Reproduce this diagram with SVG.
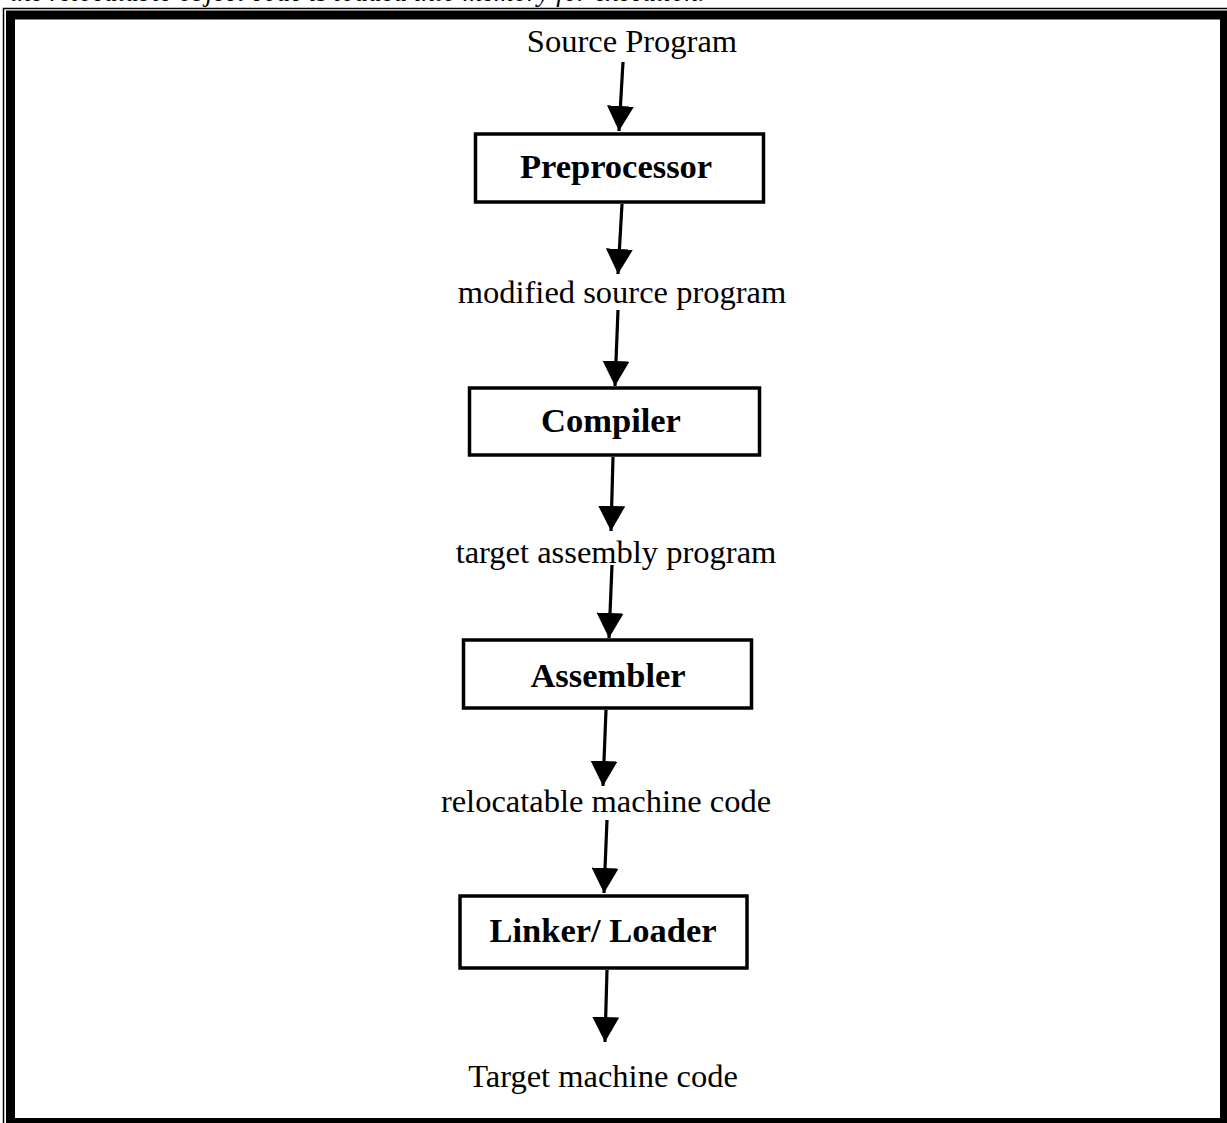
<svg xmlns="http://www.w3.org/2000/svg" width="1227" height="1123" viewBox="0 0 1227 1123">
  <style>
    .lbl { font-family: "Liberation Serif", "Times New Roman", serif; font-size: 32.5px; fill: #000; text-anchor: middle; }
    .ttl { font-family: "Liberation Serif", "Times New Roman", serif; font-size: 34.5px; font-weight: bold; fill: #000; text-anchor: middle; }
    .box { fill: #fff; stroke: #000; stroke-width: 3.5; }
    .conn { fill: none; stroke: #000; stroke-width: 3.2; marker-end: url(#head); }
    .cap { font-family: "Liberation Serif", "Times New Roman", serif; font-style: italic; font-size: 27px; fill: #000; }
  </style>
  <defs>
    <marker id="head" markerUnits="userSpaceOnUse" markerWidth="25" markerHeight="27" viewBox="0 0 25 27" refX="25" refY="13.5" orient="auto">
      <path d="M0,0 L25,13.5 L0,27 Z" fill="#000"/>
    </marker>
  </defs>

  <rect width="1227" height="1123" fill="#fff"/>

  <!-- caption line running off the top of the page -->
  <text class="cap" x="10" y="0.5">the relocatable object code is loaded into memory for execution.</text>

  <!-- page border: thin outer rule plus thick inner rule -->
  <g id="border">
    <path d="M3.5,1123 V8.5 H1227" fill="none" stroke="#000" stroke-width="1.5"/>
    <rect x="10.5" y="15" width="1214" height="1107.5" fill="none" stroke="#000" stroke-width="9"/>
  </g>

  <g id="connectors">
    <path class="conn" d="M623,62 L619,131"/>
    <path class="conn" d="M622,204 L618,274"/>
    <path class="conn" d="M618,310 L615,386"/>
    <path class="conn" d="M613,457 L611,531"/>
    <path class="conn" d="M612,565 L609,638"/>
    <path class="conn" d="M606,710 L603,786"/>
    <path class="conn" d="M607,820 L604,893"/>
    <path class="conn" d="M607,970 L605,1042"/>
  </g>

  <g id="source-program">
    <text class="lbl" x="632" y="52">Source Program</text>
  </g>

  <g id="preprocessor">
    <rect class="box" x="475.5" y="134" width="288" height="68"/>
    <text class="ttl" x="616" y="178">Preprocessor</text>
  </g>

  <g id="modified-source-program">
    <text class="lbl" x="622" y="303">modified source program</text>
  </g>

  <g id="compiler">
    <rect class="box" x="469.5" y="388" width="290" height="67"/>
    <text class="ttl" x="611" y="432">Compiler</text>
  </g>

  <g id="target-assembly-program">
    <text class="lbl" x="616" y="563">target assembly program</text>
  </g>

  <g id="assembler">
    <rect class="box" x="463.5" y="640" width="288" height="68"/>
    <text class="ttl" x="608" y="687">Assembler</text>
  </g>

  <g id="relocatable-machine-code">
    <text class="lbl" x="606" y="812">relocatable machine code</text>
  </g>

  <g id="linker-loader">
    <rect class="box" x="460" y="896" width="287" height="72"/>
    <text class="ttl" x="603" y="942">Linker/ Loader</text>
  </g>

  <g id="target-machine-code">
    <text class="lbl" x="603" y="1087">Target machine code</text>
  </g>
</svg>
